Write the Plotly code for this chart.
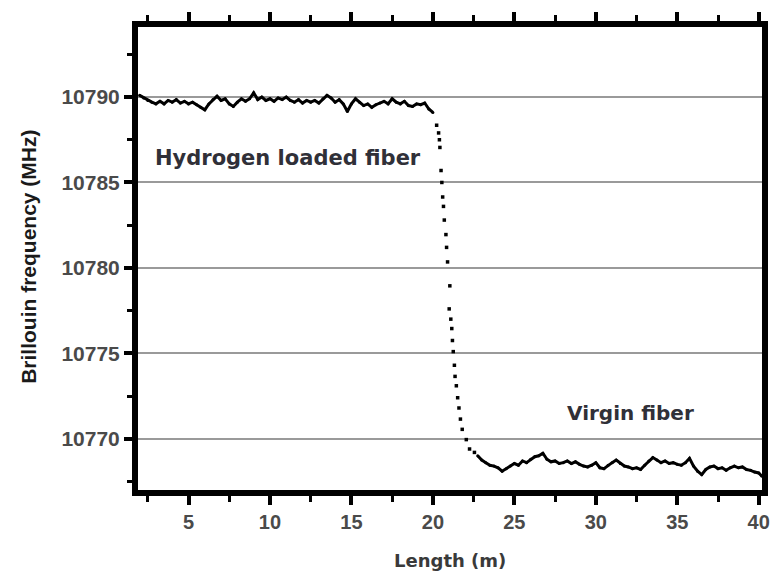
import plotly.graph_objects as go

# Hydrogen loaded section (m, MHz)
h2_x = [2.0, 2.25, 2.5, 2.75, 3.0, 3.25, 3.5, 3.75, 4.0, 4.25, 4.5, 4.75, 5.0, 5.25, 5.5, 5.75,
        6.0, 6.25, 6.5, 6.75, 7.0, 7.25, 7.5, 7.75, 8.0, 8.25, 8.5, 8.75, 9.0, 9.25, 9.5, 9.75,
        10.0, 10.25, 10.5, 10.75, 11.0, 11.25, 11.5, 11.75, 12.0, 12.25, 12.5, 12.75, 13.0, 13.25,
        13.5, 13.75, 14.0, 14.25, 14.5, 14.75, 15.0, 15.25, 15.5, 15.75, 16.0, 16.25, 16.5, 16.75,
        17.0, 17.25, 17.5, 17.75, 18.0, 18.25, 18.5, 18.75, 19.0, 19.25, 19.5, 19.75, 20.0]
h2_y = [10790.1, 10789.95, 10789.8, 10789.7, 10789.6, 10789.75, 10789.6, 10789.8, 10789.7, 10789.85,
        10789.65, 10789.75, 10789.6, 10789.7, 10789.55, 10789.4, 10789.25, 10789.6, 10789.85, 10790.05,
        10789.8, 10789.9, 10789.6, 10789.45, 10789.7, 10789.9, 10789.75, 10789.9, 10790.25, 10789.85,
        10790.0, 10789.8, 10789.9, 10789.75, 10789.95, 10789.85, 10790.0, 10789.8, 10789.7, 10789.85,
        10789.65, 10789.8, 10789.7, 10789.8, 10789.65, 10789.9, 10790.1, 10789.95, 10789.7, 10789.85,
        10789.6, 10789.15, 10789.6, 10789.9, 10789.7, 10789.5, 10789.6, 10789.4, 10789.55, 10789.65,
        10789.75, 10789.6, 10789.9, 10789.7, 10789.6, 10789.75, 10789.5, 10789.45, 10789.6, 10789.55,
        10789.65, 10789.3, 10789.1]

# Transition region
tr_x = [20.23, 20.35, 20.4, 20.43, 20.5, 20.55, 20.6, 20.65, 20.7, 20.8, 20.84, 20.9, 21.0, 21.04,
        21.1, 21.16, 21.2, 21.25, 21.32, 21.36, 21.44, 21.52, 21.6, 21.69, 21.8, 22.05, 22.25, 22.55]
tr_y = [10788.35, 10787.9, 10787.5, 10787.05, 10785.7, 10785.0, 10784.15, 10783.6, 10782.8, 10781.95,
        10781.2, 10780.35, 10777.6, 10778.95, 10777.0, 10776.45, 10775.75, 10775.1, 10774.3, 10773.65,
        10773.1, 10772.4, 10771.8, 10771.15, 10770.55, 10769.95, 10769.4, 10769.2]

# Virgin fiber section
vg_x = [22.75, 23.0, 23.25, 23.5, 23.75, 24.0, 24.25, 24.5, 24.75, 25.0, 25.25, 25.5, 25.75, 26.0,
        26.25, 26.5, 26.75, 27.0, 27.25, 27.5, 27.75, 28.0, 28.25, 28.5, 28.75, 29.0, 29.25, 29.5,
        29.75, 30.0, 30.25, 30.5, 30.75, 31.0, 31.25, 31.5, 31.75, 32.0, 32.25, 32.5, 32.75, 33.0,
        33.25, 33.5, 33.75, 34.0, 34.25, 34.5, 34.75, 35.0, 35.25, 35.5, 35.75, 36.0, 36.25, 36.5,
        36.75, 37.0, 37.25, 37.5, 37.75, 38.0, 38.25, 38.5, 38.75, 39.0, 39.25, 39.5, 39.75, 40.0, 40.2]
vg_y = [10769.0, 10768.75, 10768.6, 10768.45, 10768.4, 10768.3, 10768.1, 10768.25, 10768.4, 10768.55,
        10768.45, 10768.7, 10768.6, 10768.8, 10768.95, 10769.0, 10769.15, 10768.8, 10768.65, 10768.7,
        10768.55, 10768.6, 10768.7, 10768.55, 10768.65, 10768.5, 10768.4, 10768.35, 10768.45, 10768.6,
        10768.3, 10768.25, 10768.45, 10768.6, 10768.75, 10768.55, 10768.4, 10768.35, 10768.25, 10768.3,
        10768.2, 10768.45, 10768.7, 10768.9, 10768.75, 10768.6, 10768.7, 10768.55, 10768.6, 10768.5,
        10768.45, 10768.6, 10768.85, 10768.4, 10768.1, 10767.9, 10768.2, 10768.35, 10768.4, 10768.25,
        10768.3, 10768.15, 10768.3, 10768.4, 10768.3, 10768.35, 10768.2, 10768.15, 10768.05, 10768.0,
        10767.8]

x_ticks = [5, 10, 15, 20, 25, 30, 35, 40]
y_ticks = [10770, 10775, 10780, 10785, 10790]

FONT = "Liberation Sans, Arial, sans-serif"
WIDE = "DejaVu Sans, Verdana, sans-serif"

fig = go.Figure()
fig.add_trace(go.Scatter(x=h2_x, y=h2_y, mode="lines+markers",
                         line=dict(color="black", width=3), marker=dict(color="black", size=3),
                         showlegend=False))
fig.add_trace(go.Scatter(x=tr_x, y=tr_y, mode="markers",
                         marker=dict(color="black", size=3.5, symbol="square"), showlegend=False))
fig.add_trace(go.Scatter(x=vg_x, y=vg_y, mode="lines+markers",
                         line=dict(color="black", width=3), marker=dict(color="black", size=3),
                         showlegend=False))

fig.update_layout(
    width=782, height=581,
    margin=dict(l=138, r=12, t=20, b=91),
    paper_bgcolor="white", plot_bgcolor="white",
    font=dict(family=FONT),
    xaxis=dict(range=[1.9, 40.2], tickvals=x_ticks, showgrid=False, zeroline=False,
               showline=True, linecolor="black", linewidth=6, mirror="ticks",
               ticks="outside", ticklen=9, tickwidth=4, tickcolor="black",
               minor=dict(dtick=2.5, tick0=0, ticks="outside", ticklen=6, tickwidth=3, tickcolor="black"),
               tickfont=dict(size=20, color="#4a4a4a", family=FONT, weight="bold")),
    yaxis=dict(range=[10767.0, 10794.1], tickvals=y_ticks, tickformat="d", showgrid=True,
               gridcolor="#9a9a9a", gridwidth=1.5, zeroline=False,
               showline=True, linecolor="black", linewidth=6, mirror=True,
               ticks="outside", ticklen=8, tickwidth=4, tickcolor="black",
               minor=dict(dtick=2.5, tick0=10765, ticks="outside", ticklen=5, tickwidth=3,
                          tickcolor="black", showgrid=False),
               tickfont=dict(size=21, color="#4a4a4a", family=FONT, weight="bold")),
    annotations=[
        dict(text="<b>Hydrogen loaded fiber</b>", x=11.1, y=10786.42, xref="x", yref="y",
             xanchor="center", yanchor="middle",
             showarrow=False, font=dict(size=21, color="#303038", family=WIDE)),
        dict(text="<b>Virgin fiber</b>", x=32.1, y=10771.5, xref="x", yref="y",
             xanchor="center", yanchor="middle",
             showarrow=False, font=dict(size=20, color="#303038", family=WIDE)),
        dict(text="<b>Brillouin frequency (MHz)</b>", x=-0.176, y=0.504, xref="paper", yref="paper",
             xanchor="center", yanchor="middle",
             textangle=-90, showarrow=False, font=dict(size=21, color="#1a1a1a", family=FONT)),
        dict(text="<b>Length (m)</b>", x=0.5, y=-0.153, xref="paper", yref="paper",
             xanchor="center", yanchor="middle",
             showarrow=False, font=dict(size=18, color="#3a3a3a", family=WIDE)),
    ],
)

fig.write_html("out.html")
